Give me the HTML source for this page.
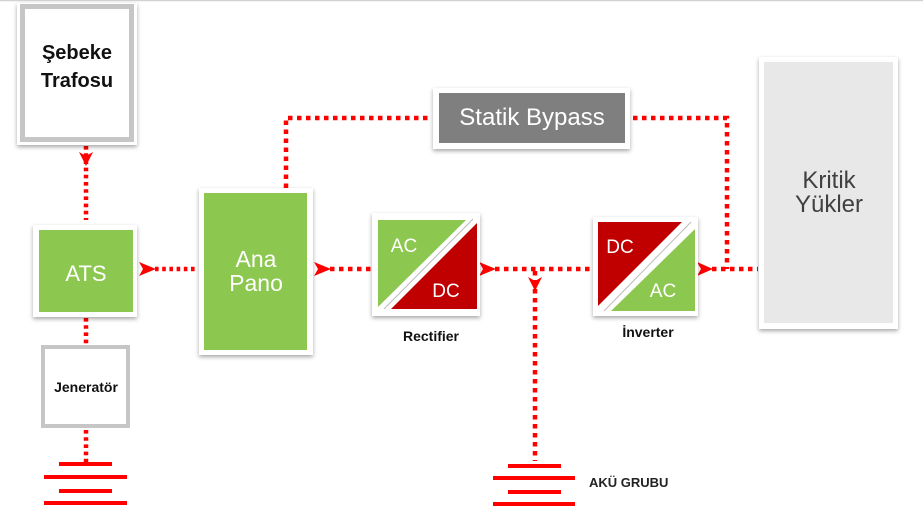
<!DOCTYPE html>
<html>
<head>
<meta charset="utf-8">
<style>
  html,body{margin:0;padding:0;background:#fff;}
  svg{display:block;}
  text{font-family:"Liberation Sans",Arial,sans-serif;}
</style>
</head>
<body>
<svg width="923" height="513" viewBox="0 0 923 513" xmlns="http://www.w3.org/2000/svg">
  <defs>
    <filter id="sh" x="-20%" y="-20%" width="140%" height="140%">
      <feDropShadow dx="0" dy="2" stdDeviation="2" flood-color="#000" flood-opacity="0.35"/>
    </filter>
  </defs>

  <!-- top border -->
  <line x1="0" y1="0.5" x2="923" y2="0.5" stroke="#d2d2d2" stroke-width="1.5"/>

  <!-- dotted connectors: wider spacing -->
  <g fill="none" stroke="#ff0000" stroke-width="4.5" stroke-dasharray="4.5 4.5">
    <line x1="330" y1="269" x2="372" y2="269"/>
    <line x1="495" y1="269" x2="592" y2="269"/>
    <line x1="535" y1="271" x2="535" y2="461"/>
    <line x1="712" y1="269" x2="758" y2="269"/>
    <polyline points="286,188 286,118 431,118"/>
    <polyline points="633,118 727,118 727,269"/>
  </g>
  <!-- dotted connectors: tighter spacing -->
  <g fill="none" stroke="#ff0000" stroke-width="4.5" stroke-dasharray="3.6 3.6">
    <line x1="86" y1="146" x2="86" y2="220"/>
    <line x1="155" y1="269" x2="198" y2="269"/>
    <line x1="86" y1="318" x2="86" y2="345"/>
    <line x1="86" y1="430" x2="86" y2="463"/>
  </g>

  <!-- arrowheads -->
  <g fill="#ff0000">
    <path d="M86,166 L79,152 L86,156 L93,152 Z"/>
    <path d="M156,269 L139,262 L143,269 L139,276 Z"/>
    <path d="M331,269 L314,262 L318,269 L314,276 Z"/>
    <path d="M496,269 L479,262 L483,269 L479,276 Z"/>
    <path d="M535,291 L528,277 L535,281 L542,277 Z"/>
    <path d="M713,269 L697,262 L701,269 L697,276 Z"/>
  </g>

  <!-- Şebeke Trafosu -->
  <rect x="17" y="3" width="120" height="142" fill="#fff" filter="url(#sh)"/>
  <rect x="20" y="4" width="114" height="138" fill="#c6c6c6"/>
  <rect x="25" y="9" width="104" height="128" fill="#fff"/>
  <text x="77" y="59" font-size="20" font-weight="bold" fill="#111" text-anchor="middle">Şebeke</text>
  <text x="77" y="87" font-size="20" font-weight="bold" fill="#111" text-anchor="middle">Trafosu</text>

  <!-- ATS -->
  <rect x="33" y="225" width="104" height="92" fill="#fff" filter="url(#sh)"/>
  <rect x="39" y="230" width="94" height="82" fill="#8cc84f"/>
  <text x="86" y="281" font-size="22" fill="#fff" text-anchor="middle">ATS</text>

  <!-- Jeneratör -->
  <rect x="41" y="345" width="89" height="83" fill="#c6c6c6"/>
  <rect x="45" y="349" width="81" height="75" fill="#fff"/>
  <text x="86" y="392" font-size="14" font-weight="bold" fill="#111" text-anchor="middle">Jeneratör</text>

  <!-- battery left -->
  <g stroke="#ff0000" stroke-width="4">
    <line x1="59" y1="464" x2="112" y2="464"/>
    <line x1="44" y1="477" x2="127" y2="477"/>
    <line x1="59" y1="491" x2="112" y2="491"/>
    <line x1="44" y1="503" x2="127" y2="503"/>
  </g>

  <!-- Ana Pano -->
  <rect x="199" y="188" width="114" height="167" fill="#fff" filter="url(#sh)"/>
  <rect x="204" y="193" width="103" height="157" fill="#8cc84f"/>
  <text x="256" y="267" font-size="23" fill="#fff" text-anchor="middle">Ana</text>
  <text x="256" y="291" font-size="23" fill="#fff" text-anchor="middle">Pano</text>

  <!-- Statik Bypass -->
  <rect x="433" y="88" width="197" height="61" fill="#fff" filter="url(#sh)"/>
  <rect x="439" y="93" width="186" height="50" fill="#7f7f7f"/>
  <text x="532" y="125" font-size="24" fill="#fff" text-anchor="middle">Statik Bypass</text>

  <!-- Rectifier -->
  <rect x="372" y="213" width="108" height="103" fill="#fff" filter="url(#sh)"/>
  <polygon points="378,220 466,220 378,307" fill="#8cc84f"/>
  <polygon points="477,223 477,309 391,309" fill="#c00000"/>
  <line x1="473" y1="219" x2="384" y2="309" stroke="#bbb" stroke-width="1"/>
  <text x="404" y="252" font-size="19" fill="#fff" text-anchor="middle">AC</text>
  <text x="446" y="297" font-size="19" fill="#fff" text-anchor="middle">DC</text>
  <text x="431" y="341" font-size="14" font-weight="bold" fill="#111" text-anchor="middle">Rectifier</text>

  <!-- Inverter -->
  <rect x="593" y="217" width="105" height="99" fill="#fff" filter="url(#sh)"/>
  <polygon points="598,222 682,222 598,306" fill="#c00000"/>
  <polygon points="695,229 695,311 611,311" fill="#8cc84f"/>
  <line x1="691" y1="222" x2="604" y2="311" stroke="#bbb" stroke-width="1"/>
  <text x="620" y="253" font-size="19" fill="#fff" text-anchor="middle">DC</text>
  <text x="663" y="297" font-size="19" fill="#fff" text-anchor="middle">AC</text>
  <text x="648" y="337" font-size="14" font-weight="bold" fill="#111" text-anchor="middle">İnverter</text>

  <!-- Kritik Yükler -->
  <rect x="759" y="57" width="139" height="272" fill="#fff" filter="url(#sh)"/>
  <rect x="764" y="62" width="129" height="261" fill="#e8e8e8"/>
  <text x="829" y="188" font-size="24" fill="#404040" text-anchor="middle">Kritik</text>
  <text x="829" y="212" font-size="24" fill="#404040" text-anchor="middle">Yükler</text>

  <!-- battery AKÜ -->
  <g stroke="#ff0000" stroke-width="4">
    <line x1="508" y1="466" x2="561" y2="466"/>
    <line x1="493" y1="478" x2="575" y2="478"/>
    <line x1="508" y1="492" x2="561" y2="492"/>
    <line x1="493" y1="504" x2="575" y2="504"/>
  </g>
  <text x="589" y="487" font-size="13" font-weight="bold" fill="#222">AKÜ GRUBU</text>
</svg>
</body>
</html>
